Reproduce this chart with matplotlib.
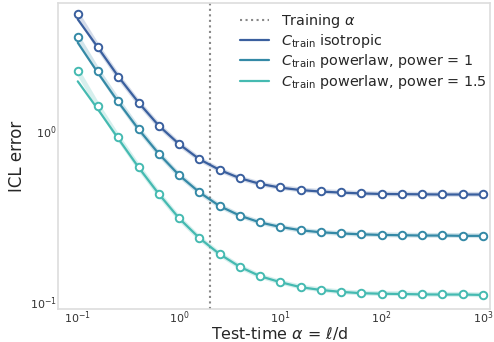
import numpy as np
import matplotlib
matplotlib.use("Agg")
import matplotlib.pyplot as plt
import seaborn as sns

sns.set_style("white")
plt.rcParams['font.family'] = ['DejaVu Sans']

alpha_test = np.logspace(-1, 3, 21)
training_alpha = 2.0

emp_iso = [4.77, 3.07, 2.07, 1.46, 1.07, 0.836, 0.683, 0.591, 0.529, 0.490, 0.467,
           0.452, 0.443, 0.437, 0.431, 0.428, 0.428, 0.426, 0.426, 0.426, 0.426]
emp_pow1 = [3.51, 2.234, 1.492, 1.023, 0.734, 0.551, 0.438, 0.364, 0.320, 0.292, 0.275,
            0.263, 0.256, 0.252, 0.249, 0.2475, 0.2466, 0.2455, 0.2455, 0.245, 0.2443]
emp_pow15 = [2.222, 1.394, 0.914, 0.616, 0.428, 0.309, 0.237, 0.191, 0.161, 0.142, 0.131,
             0.1229, 0.1183, 0.1151, 0.1133, 0.1124, 0.1124, 0.1113, 0.1113, 0.1113, 0.1104]

th_iso = [4.46, 3.05, 2.07, 1.46, 1.07, 0.836, 0.683, 0.591, 0.529, 0.490, 0.466,
          0.451, 0.442, 0.436, 0.431, 0.428, 0.427, 0.426, 0.425, 0.425, 0.425]
th_pow1 = [3.26, 2.17, 1.47, 1.02, 0.734, 0.551, 0.438, 0.364, 0.320, 0.292, 0.275,
           0.263, 0.256, 0.252, 0.249, 0.247, 0.246, 0.245, 0.245, 0.244, 0.244]
th_pow15 = [1.94, 1.33, 0.90, 0.612, 0.428, 0.309, 0.237, 0.191, 0.161, 0.142, 0.131,
            0.1225, 0.118, 0.115, 0.113, 0.1122, 0.1118, 0.1112, 0.111, 0.111, 0.1104]

labels = [r"$C_{\mathrm{train}}$ isotropic",
          r"$C_{\mathrm{train}}$ powerlaw, power = 1",
          r"$C_{\mathrm{train}}$ powerlaw, power = 1.5"]
colors = ["#3a5f9e", "#3489a6", "#45bab1"]

fig = plt.figure(figsize=(4.94, 3.42), dpi=100)
ax = fig.add_axes([0.117, 0.096, 0.875, 0.895])

ax.axvline(training_alpha, color="#888888", linestyle=":", linewidth=1.5, label=r"Training $\alpha$")

for emp, th, lab, c in zip([emp_iso, emp_pow1, emp_pow15], [th_iso, th_pow1, th_pow15], labels, colors):
    ax.plot(alpha_test, emp, color=c, alpha=0.22, linewidth=3.5, zorder=2)
    ax.plot(alpha_test, th, color=c, linewidth=1.6, label=lab, zorder=3)
    ax.plot(alpha_test, emp, linestyle="none", marker="o", markersize=5.4,
            markerfacecolor="white", markeredgecolor=c, markeredgewidth=1.4, zorder=4)

ax.set_xscale("log")
ax.set_yscale("log")
ax.set_xlim(10**-1.197, 10**3.07)
ax.set_ylim(10**-1.04, 10**0.744)
ax.tick_params(axis="both", which="both", length=0, labelsize=8, colors="#333333", pad=0.5)
ax.minorticks_off()
ax.set_xticks([0.1, 1, 10, 100, 1000])
ax.set_yticks([0.1, 1])

for s in ax.spines.values():
    s.set_color("#dddddd")
    s.set_linewidth(1.2)

ax.set_xlabel(r"Test-time $\alpha$ = $\ell$/d", fontsize=11.4, color="#262626")
ax.xaxis.set_label_coords(0.514, -0.081)
ax.xaxis.label.set_va("center")
ax.set_ylabel("ICL error", fontsize=12, color="#262626")
ax.yaxis.set_label_coords(-0.095, 0.5)
ax.yaxis.label.set_va("center")

leg = ax.legend(loc="upper right", bbox_to_anchor=(1.012, 1.0), frameon=False, fontsize=10.4,
                handlelength=2.0, borderaxespad=0.2, labelspacing=0.16, handletextpad=0.8)
for t in leg.get_texts():
    t.set_color("#262626")

fig.savefig("out.png", dpi=100)
